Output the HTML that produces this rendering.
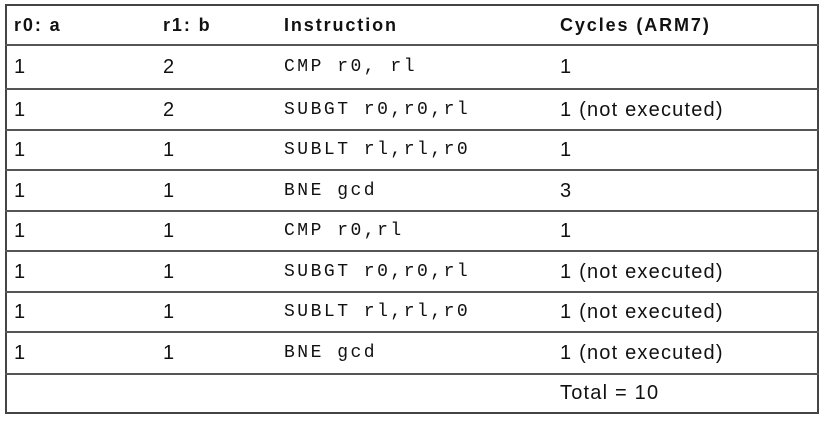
<!DOCTYPE html>
<html><head><meta charset="utf-8"><style>
body{margin:0;background:#fff;width:823px;height:421px;position:relative;overflow:hidden;font-family:"Liberation Sans",sans-serif;color:#111}
.box{position:absolute;left:5px;top:4px;width:810px;height:406px;border:2px solid #444}
.hl{position:absolute;left:5px;width:814px;height:2px;background:#555}
.c{position:absolute;font-size:20px;line-height:20px;white-space:nowrap;letter-spacing:1.2px}
.h{font-weight:bold;font-size:18px;letter-spacing:1.9px}
.m{font-family:"Liberation Mono",monospace;font-size:18px;letter-spacing:2.5px}
</style></head><body>
<div class="box"></div>
<div id="t"></div>
<script>
const lines=[45,89,130,170,211,251,292,332,374];
const tops=[4,45,89,130,170,211,251,292,332,374,412];
const colX=[14,163,284,560];
const rows=[
["r0: a","r1: b","Instruction","Cycles (ARM7)"],
["1","2","CMP r0, rl","1"],
["1","2","SUBGT r0,r0,rl","1 (not executed)"],
["1","1","SUBLT rl,rl,r0","1"],
["1","1","BNE gcd","3"],
["1","1","CMP r0,rl","1"],
["1","1","SUBGT r0,r0,rl","1 (not executed)"],
["1","1","SUBLT rl,rl,r0","1 (not executed)"],
["1","1","BNE gcd","1 (not executed)"],
["","","","Total = 10"]];
const t=document.getElementById('t');
lines.forEach(y=>{const d=document.createElement('div');d.className='hl';d.style.top=(y-1)+'px';


t.appendChild(d);});
rows.forEach((r,i)=>{const mid=(tops[i]+tops[i+1])/2;r.forEach((s,j)=>{if(!s)return;const d=document.createElement('div');
d.className='c'+(i==0?' h':'')+(j==2&&i>0?' m':'');d.textContent=s;d.style.left=colX[j]+'px';d.style.top=(mid-10)+'px';


t.appendChild(d);});});
</script>
</body></html>
